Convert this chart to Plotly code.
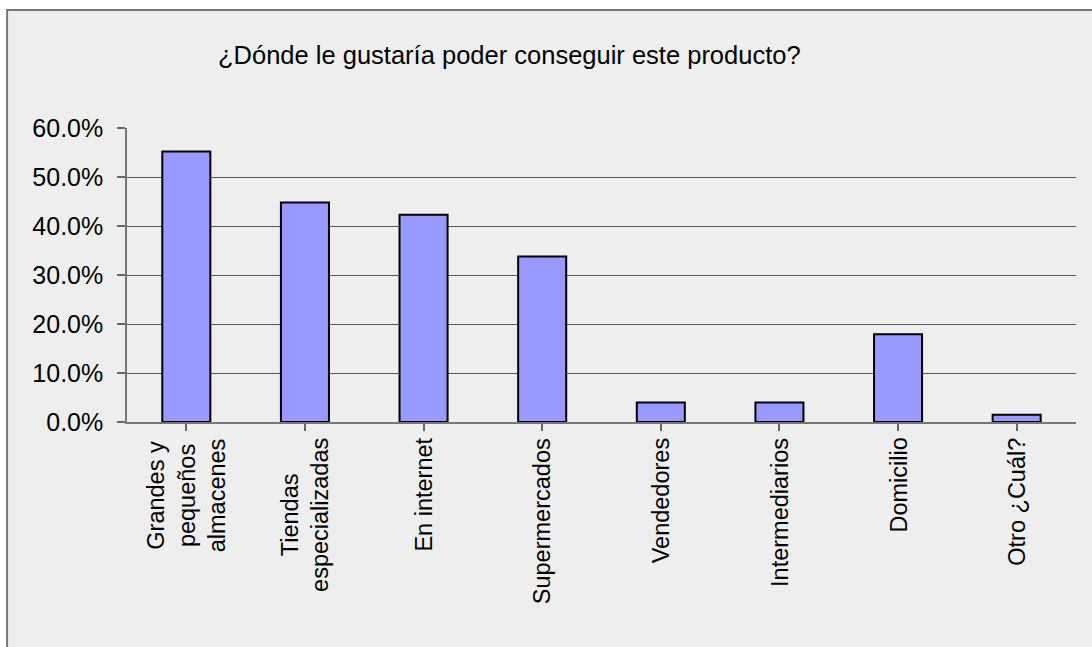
import plotly.graph_objects as go

# Survey answers: preferred place to buy the product (share of respondents)
categories = [
    "Grandes y<br>pequeños<br>almacenes",
    "Tiendas<br>especializadas",
    "En internet",
    "Supermercados",
    "Vendedores",
    "Intermediarios",
    "Domicilio",
    "Otro ¿Cuál?",
]
shares = [0.552, 0.448, 0.423, 0.338, 0.040, 0.040, 0.179, 0.015]
y_ticks = [0.0, 0.1, 0.2, 0.3, 0.4, 0.5, 0.6]

title_text = "¿Dónde le gustaría poder conseguir este producto?"

W, H = 1092, 647
L, R, T, B = 127, 15.5, 127.5, 225.3
plot_h = H - T - B

fig = go.Figure(
    go.Bar(
        x=list(range(len(categories))),
        y=shares,
        marker=dict(color="#9999FF", line=dict(color="#000000", width=2)),
        width=0.405,
        hoverinfo="skip",
    )
)

# Category labels, rotated and centred line by line below the axis
for i, lab in enumerate(categories):
    fig.add_annotation(
        x=i, xref="x",
        y=0, yref="paper",
        yanchor="top", xanchor="center",
        yshift=-14,
        text=lab, textangle=-90, align="center",
        showarrow=False,
        font=dict(family="Liberation Sans, Arial, sans-serif", size=23.5, color="#000000"),
    )

# Chart-area panel with its grey frame
fig.add_shape(
    type="rect", xref="paper", yref="paper", layer="below",
    x0=(7 - L) / (W - L - R), x1=(W + 20 - L) / (W - L - R),
    y0=-(H + 20 - T - plot_h) / plot_h - 0.2, y1=(H - B - 9.5) / plot_h,
    fillcolor="#EEEEEE", line=dict(color="#777777", width=2),
)

fig.update_layout(
    width=W, height=H,
    margin=dict(l=L, r=R, t=T, b=B, pad=0),
    paper_bgcolor="#FFFFFF",
    plot_bgcolor="rgba(0,0,0,0)",
    showlegend=False,
    title=dict(
        text=title_text,
        x=218 / W, xanchor="left", xref="container",
        y=1 - 55 / H, yanchor="middle", yref="container",
        font=dict(family="Liberation Sans, Arial, sans-serif", size=25.5, color="#000000"),
    ),
    xaxis=dict(
        range=[-0.5, len(categories) - 0.5],
        tickmode="array",
        tickvals=list(range(len(categories))),
        showticklabels=False,
        tickson="boundaries",
        ticks="outside", ticklen=7, tickcolor="#666666", tickwidth=1.5,
        showline=True, linecolor="#777777", linewidth=1.5,
        showgrid=False, zeroline=False,
        fixedrange=True,
    ),
    yaxis=dict(
        range=[0, 0.6],
        tickmode="array",
        tickvals=y_ticks,
        tickformat=".1%",
        ticks="outside", ticklen=8, tickcolor="#666666", tickwidth=1.5,
        ticklabelstandoff=9,
        showline=True, linecolor="#777777", linewidth=1.5,
        showgrid=True, gridcolor="#555555", gridwidth=1,
        zeroline=False,
        tickfont=dict(family="Liberation Sans, Arial, sans-serif", size=25, color="#000000"),
        fixedrange=True,
    ),
)

fig.write_html("out.html")
